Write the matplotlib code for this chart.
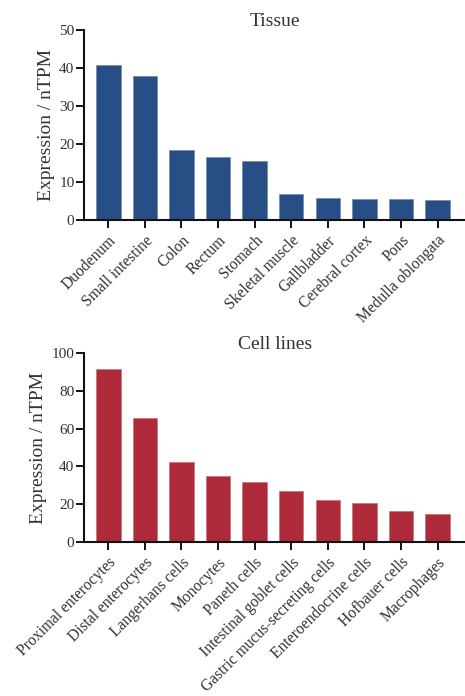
import numpy as np
import matplotlib
matplotlib.use('Agg')
import matplotlib.pyplot as plt

plt.rcParams['font.family'] = ['Liberation Serif', 'DejaVu Serif']

tissues = ['Duodenum', 'Small intestine', 'Colon', 'Rectum', 'Stomach',
           'Skeletal muscle', 'Gallbladder', 'Cerebral cortex', 'Pons',
           'Medulla oblongata']
tissue_vals = [40.8, 38.0, 18.4, 16.5, 15.6, 6.8, 5.8, 5.6, 5.4, 5.3]

cells = ['Proximal enterocytes', 'Distal enterocytes', 'Langerhans cells',
         'Monocytes', 'Paneth cells', 'Intestinal goblet cells',
         'Gastric mucus-secreting cells', 'Enteroendocrine cells',
         'Hofbauer cells', 'Macrophages']
cell_vals = [91.6, 65.4, 42.6, 34.9, 31.7, 27.2, 22.5, 20.6, 16.6, 15.1]

fig = plt.figure(figsize=(4.65, 6.96), dpi=100)
ax1 = fig.add_axes([0.181, 0.684, 0.819, 0.273])
ax2 = fig.add_axes([0.181, 0.221, 0.819, 0.272])


def draw(ax, names, vals, color, edge, title, ymax, step):
    x = np.arange(len(names))
    ax.bar(x, vals, width=0.67, color=color, edgecolor=edge, linewidth=0.5)
    ax.set_xlim(-0.66, 9.75)
    ax.set_ylim(0, ymax)
    ax.set_yticks(np.arange(0, ymax + 1, step))
    ax.set_xticks(x)
    ax.set_xticklabels(names, rotation=45, ha='right', rotation_mode='anchor',
                       fontsize=11.2, color='#333333')
    ax.tick_params(axis='y', labelsize=11, width=1.4, length=6, pad=1,
                   color='#111111', labelcolor='#333333')
    ax.tick_params(axis='x', width=1.4, length=6, pad=3, color='#111111')
    for s in ['top', 'right']:
        ax.spines[s].set_visible(False)
    for s in ['left', 'bottom']:
        ax.spines[s].set_linewidth(1.5)
        ax.spines[s].set_color('#111111')
    ax.set_ylabel('Expression / nTPM', fontsize=14, color='#333333', labelpad=3)
    ax.set_title(title, fontsize=14, color='#333333', pad=1)


draw(ax1, tissues, tissue_vals, '#284f85', '#7088aa', 'Tissue', 50, 10)
draw(ax2, cells, cell_vals, '#ae2a3b', '#c9707b', 'Cell lines', 100, 20)

fig.savefig('out.png', dpi=100)
